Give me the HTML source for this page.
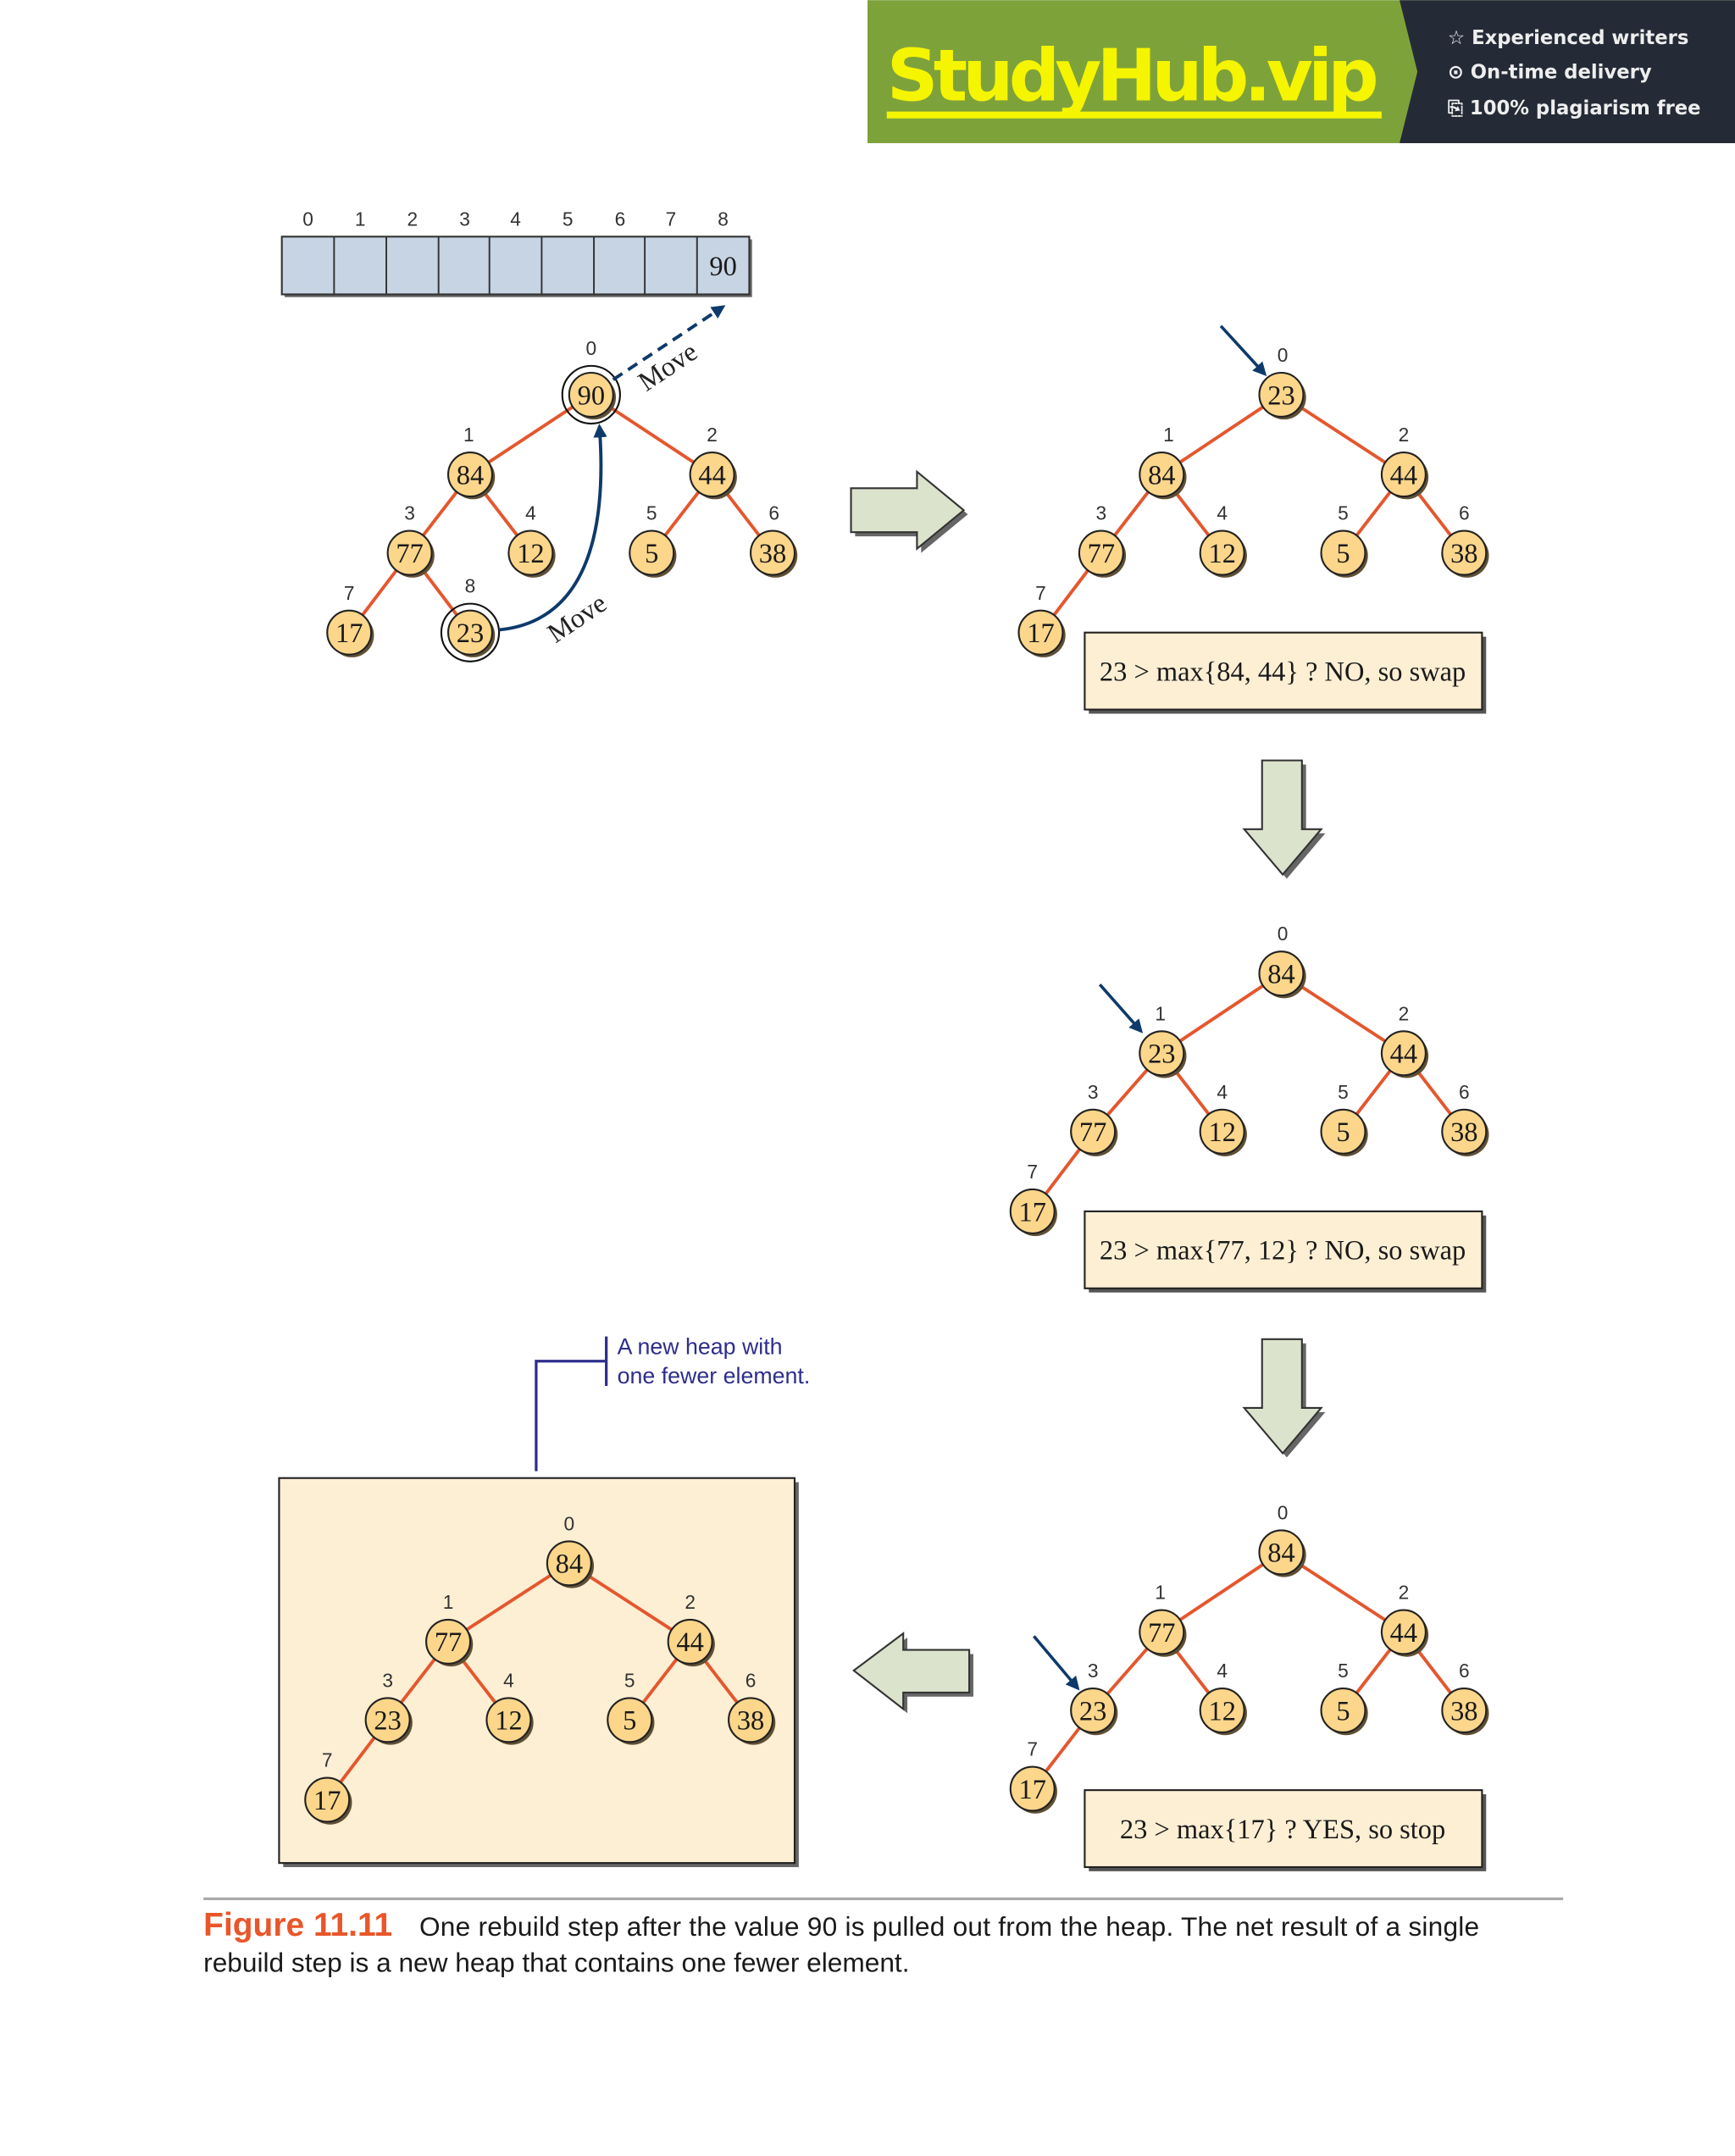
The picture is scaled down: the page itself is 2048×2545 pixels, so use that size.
<!DOCTYPE html>
<html><head><meta charset="utf-8"><style>
html,body{margin:0;padding:0;background:#fff;}
svg{display:block;}
.n{fill:#fbd68b;stroke:#222;stroke-width:1.3}
.s{fill:#5e4f35}
.v{font-family:"Liberation Serif",serif;font-size:20px;fill:#1a1a1a;text-anchor:middle}
.i{font-family:"Liberation Sans",sans-serif;font-size:14px;fill:#333;text-anchor:middle}
.e{stroke:#e4572e;stroke-width:2.4;fill:none}
.t{font-family:"Liberation Serif",serif;font-size:20px;fill:#1a1a1a;text-anchor:middle}
</style></head><body>
<svg width="2048" height="2545" viewBox="0 0 1262 1568" xmlns="http://www.w3.org/2000/svg">
<defs>
<marker id="ah" markerWidth="10" markerHeight="10" refX="8" refY="5" orient="auto" markerUnits="userSpaceOnUse"><path d="M0,0 L10,5 L0,10 z" fill="#0d3a6b"/></marker>
</defs>
<!-- Banner -->
<rect x="631" y="0" width="631" height="104" fill="#7ea23a"/>
<path d="M1018,0 L1262,0 L1262,104 L1018,104 L1031,52 z" fill="#242b37"/>
<text x="645" y="73" font-family="DejaVu Sans,sans-serif" font-weight="bold" font-size="52" fill="#f5f500" textLength="358">StudyHub.vip</text>
<rect x="645" y="81" width="360" height="5" fill="#f5f500"/>
<g font-family="DejaVu Sans,sans-serif" font-weight="bold" font-size="14" fill="#eee">
<text x="1053" y="32">☆ Experienced writers</text>
<text x="1053" y="57">⊙ On-time delivery</text>
<text x="1053" y="83">⎘ 100% plagiarism free</text>
</g>

<!-- Array -->
<rect x="207" y="174" width="340" height="42" fill="#666"/>
<rect x="205" y="172" width="340" height="42" fill="#c6d4e4" stroke="#333" stroke-width="1.3"/>
<g stroke="#333" stroke-width="1.2">
<line x1="243" y1="172" x2="243" y2="214"/><line x1="281" y1="172" x2="281" y2="214"/><line x1="319" y1="172" x2="319" y2="214"/><line x1="356" y1="172" x2="356" y2="214"/><line x1="394" y1="172" x2="394" y2="214"/><line x1="432" y1="172" x2="432" y2="214"/><line x1="469" y1="172" x2="469" y2="214"/><line x1="507" y1="172" x2="507" y2="214"/>
</g>
<text class="v" x="526" y="200">90</text>
<g class="i"><text x="224" y="164">0</text><text x="262" y="164">1</text><text x="300" y="164">2</text><text x="338" y="164">3</text><text x="375" y="164">4</text><text x="413" y="164">5</text><text x="451" y="164">6</text><text x="488" y="164">7</text><text x="526" y="164">8</text></g>

<!-- Tree 1 -->
<g class="e"><path d="M430,287 L342,345 L298,402 L254,460 M298,402 L342,460 M342,345 L386,402 M430,287 L518,345 L474,402 M518,345 L562,402"/></g>
<circle cx="430" cy="287" r="21" fill="none" stroke="#111" stroke-width="1.3"/>
<circle cx="342" cy="460" r="21" fill="none" stroke="#111" stroke-width="1.3"/>
<g>
<circle class="s" cx="432" cy="289" r="16"/><circle class="n" cx="430" cy="287" r="16"/><text class="v" x="430" y="294">90</text>
<circle class="s" cx="344" cy="347" r="16"/><circle class="n" cx="342" cy="345" r="16"/><text class="v" x="342" y="352">84</text>
<circle class="s" cx="520" cy="347" r="16"/><circle class="n" cx="518" cy="345" r="16"/><text class="v" x="518" y="352">44</text>
<circle class="s" cx="300" cy="404" r="16"/><circle class="n" cx="298" cy="402" r="16"/><text class="v" x="298" y="409">77</text>
<circle class="s" cx="388" cy="404" r="16"/><circle class="n" cx="386" cy="402" r="16"/><text class="v" x="386" y="409">12</text>
<circle class="s" cx="476" cy="404" r="16"/><circle class="n" cx="474" cy="402" r="16"/><text class="v" x="474" y="409">5</text>
<circle class="s" cx="564" cy="404" r="16"/><circle class="n" cx="562" cy="402" r="16"/><text class="v" x="562" y="409">38</text>
<circle class="s" cx="256" cy="462" r="16"/><circle class="n" cx="254" cy="460" r="16"/><text class="v" x="254" y="467">17</text>
<circle class="s" cx="344" cy="462" r="16"/><circle class="n" cx="342" cy="460" r="16"/><text class="v" x="342" y="467">23</text>
</g>
<g class="i"><text x="430" y="258">0</text><text x="341" y="321">1</text><text x="518" y="321">2</text><text x="298" y="378">3</text><text x="386" y="378">4</text><text x="474" y="378">5</text><text x="563" y="378">6</text><text x="254" y="436">7</text><text x="342" y="431">8</text></g>
<path d="M446,276 L526,223" stroke="#0d3a6b" stroke-width="2.4" stroke-dasharray="8,5" fill="none" marker-end="url(#ah)"/>
<path d="M363,458 C425,452 442,390 436,310" stroke="#0d3a6b" stroke-width="2.4" fill="none" marker-end="url(#ah)"/>
<text x="0" y="0" font-family="Liberation Serif,serif" font-size="20" fill="#222" transform="translate(470,285) rotate(-34)">Move</text>
<text x="0" y="0" font-family="Liberation Serif,serif" font-size="20" fill="#222" transform="translate(404,468) rotate(-34)">Move</text>

<!-- Right arrow -->
<path d="M622,358 L670,358 L670,346 L704,374 L670,402 L670,390 L622,390 z" fill="#666"/>
<path d="M619,355 L667,355 L667,343 L701,371 L667,399 L667,387 L619,387 z" fill="#dbe3cc" stroke="#333" stroke-width="1.3"/>

<!-- Tree 2 -->
<g class="e"><path d="M932,287 L845,345 L801,402 L757,460 M845,345 L889,402 M932,287 L1021,345 L977,402 M1021,345 L1065,402"/></g>
<g>
<circle class="s" cx="934" cy="289" r="16"/><circle class="n" cx="932" cy="287" r="16"/><text class="v" x="932" y="294">23</text>
<circle class="s" cx="847" cy="347" r="16"/><circle class="n" cx="845" cy="345" r="16"/><text class="v" x="845" y="352">84</text>
<circle class="s" cx="1023" cy="347" r="16"/><circle class="n" cx="1021" cy="345" r="16"/><text class="v" x="1021" y="352">44</text>
<circle class="s" cx="803" cy="404" r="16"/><circle class="n" cx="801" cy="402" r="16"/><text class="v" x="801" y="409">77</text>
<circle class="s" cx="891" cy="404" r="16"/><circle class="n" cx="889" cy="402" r="16"/><text class="v" x="889" y="409">12</text>
<circle class="s" cx="979" cy="404" r="16"/><circle class="n" cx="977" cy="402" r="16"/><text class="v" x="977" y="409">5</text>
<circle class="s" cx="1067" cy="404" r="16"/><circle class="n" cx="1065" cy="402" r="16"/><text class="v" x="1065" y="409">38</text>
<circle class="s" cx="759" cy="462" r="16"/><circle class="n" cx="757" cy="460" r="16"/><text class="v" x="757" y="467">17</text>
</g>
<g class="i"><text x="933" y="263">0</text><text x="850" y="321">1</text><text x="1021" y="321">2</text><text x="801" y="378">3</text><text x="889" y="378">4</text><text x="977" y="378">5</text><text x="1065" y="378">6</text><text x="757" y="436">7</text></g>
<line x1="888" y1="237" x2="920" y2="272" stroke="#0d3a6b" stroke-width="2.2" marker-end="url(#ah)"/>
<rect x="792" y="463" width="289" height="56" fill="#555"/>
<rect x="789" y="460" width="289" height="56" fill="#fdefd4" stroke="#222" stroke-width="1.3"/>
<text class="t" x="933" y="495">23 &gt; max{84, 44} ? NO, so swap</text>

<!-- Down arrow 1 -->
<path d="M921,556 L950,556 L950,606 L964,606 L936,639 L908,606 L921,606 z" fill="#666"/>
<path d="M918,553 L947,553 L947,603 L961,603 L933,636 L905,603 L918,603 z" fill="#dbe3cc" stroke="#333" stroke-width="1.3"/>

<!-- Tree 3 -->
<g class="e"><path d="M932,708 L845,766 L795,823 L751,881 M845,766 L889,823 M932,708 L1021,766 L977,823 M1021,766 L1065,823"/></g>
<g>
<circle class="s" cx="934" cy="710" r="16"/><circle class="n" cx="932" cy="708" r="16"/><text class="v" x="932" y="715">84</text>
<circle class="s" cx="847" cy="768" r="16"/><circle class="n" cx="845" cy="766" r="16"/><text class="v" x="845" y="773">23</text>
<circle class="s" cx="1023" cy="768" r="16"/><circle class="n" cx="1021" cy="766" r="16"/><text class="v" x="1021" y="773">44</text>
<circle class="s" cx="797" cy="825" r="16"/><circle class="n" cx="795" cy="823" r="16"/><text class="v" x="795" y="830">77</text>
<circle class="s" cx="891" cy="825" r="16"/><circle class="n" cx="889" cy="823" r="16"/><text class="v" x="889" y="830">12</text>
<circle class="s" cx="979" cy="825" r="16"/><circle class="n" cx="977" cy="823" r="16"/><text class="v" x="977" y="830">5</text>
<circle class="s" cx="1067" cy="825" r="16"/><circle class="n" cx="1065" cy="823" r="16"/><text class="v" x="1065" y="830">38</text>
<circle class="s" cx="753" cy="883" r="16"/><circle class="n" cx="751" cy="881" r="16"/><text class="v" x="751" y="888">17</text>
</g>
<g class="i"><text x="933" y="684">0</text><text x="844" y="742">1</text><text x="1021" y="742">2</text><text x="795" y="799">3</text><text x="889" y="799">4</text><text x="977" y="799">5</text><text x="1065" y="799">6</text><text x="751" y="857">7</text></g>
<line x1="800" y1="716" x2="830" y2="750" stroke="#0d3a6b" stroke-width="2.2" marker-end="url(#ah)"/>
<rect x="792" y="884" width="289" height="56" fill="#555"/>
<rect x="789" y="881" width="289" height="56" fill="#fdefd4" stroke="#222" stroke-width="1.3"/>
<text class="t" x="933" y="916">23 &gt; max{77, 12} ? NO, so swap</text>

<!-- Down arrow 2 -->
<path d="M921,977 L950,977 L950,1027 L964,1027 L936,1060 L908,1027 L921,1027 z" fill="#666"/>
<path d="M918,974 L947,974 L947,1024 L961,1024 L933,1057 L905,1024 L918,1024 z" fill="#dbe3cc" stroke="#333" stroke-width="1.3"/>

<!-- Tree 4 -->
<g class="e"><path d="M932,1129 L845,1187 L795,1244 L751,1301 M845,1187 L889,1244 M932,1129 L1021,1187 L977,1244 M1021,1187 L1065,1244"/></g>
<g>
<circle class="s" cx="934" cy="1131" r="16"/><circle class="n" cx="932" cy="1129" r="16"/><text class="v" x="932" y="1136">84</text>
<circle class="s" cx="847" cy="1189" r="16"/><circle class="n" cx="845" cy="1187" r="16"/><text class="v" x="845" y="1194">77</text>
<circle class="s" cx="1023" cy="1189" r="16"/><circle class="n" cx="1021" cy="1187" r="16"/><text class="v" x="1021" y="1194">44</text>
<circle class="s" cx="797" cy="1246" r="16"/><circle class="n" cx="795" cy="1244" r="16"/><text class="v" x="795" y="1251">23</text>
<circle class="s" cx="891" cy="1246" r="16"/><circle class="n" cx="889" cy="1244" r="16"/><text class="v" x="889" y="1251">12</text>
<circle class="s" cx="979" cy="1246" r="16"/><circle class="n" cx="977" cy="1244" r="16"/><text class="v" x="977" y="1251">5</text>
<circle class="s" cx="1067" cy="1246" r="16"/><circle class="n" cx="1065" cy="1244" r="16"/><text class="v" x="1065" y="1251">38</text>
<circle class="s" cx="753" cy="1303" r="16"/><circle class="n" cx="751" cy="1301" r="16"/><text class="v" x="751" y="1308">17</text>
</g>
<g class="i"><text x="933" y="1105">0</text><text x="844" y="1163">1</text><text x="1021" y="1163">2</text><text x="795" y="1220">3</text><text x="889" y="1220">4</text><text x="977" y="1220">5</text><text x="1065" y="1220">6</text><text x="751" y="1277">7</text></g>
<line x1="752" y1="1190" x2="784" y2="1228" stroke="#0d3a6b" stroke-width="2.2" marker-end="url(#ah)"/>
<rect x="792" y="1305" width="289" height="56" fill="#555"/>
<rect x="789" y="1302" width="289" height="56" fill="#fdefd4" stroke="#222" stroke-width="1.3"/>
<text class="t" x="933" y="1337">23 &gt; max{17} ? YES, so stop</text>

<!-- Left arrow -->
<path d="M708,1203 L660,1203 L660,1191 L624,1218 L660,1246 L660,1234 L708,1234 z" fill="#666"/>
<path d="M705,1200 L657,1200 L657,1188 L621,1215 L657,1243 L657,1231 L705,1231 z" fill="#dbe3cc" stroke="#333" stroke-width="1.3"/>

<!-- Result box -->
<rect x="206" y="1078" width="375" height="280" fill="#666"/>
<rect x="203" y="1075" width="375" height="280" fill="#fdefd4" stroke="#222" stroke-width="1.3"/>
<g class="e"><path d="M414,1137 L326,1194 L282,1251 L238,1309 M326,1194 L370,1251 M414,1137 L502,1194 L458,1251 M502,1194 L546,1251"/></g>
<g>
<circle class="s" cx="416" cy="1139" r="16"/><circle class="n" cx="414" cy="1137" r="16"/><text class="v" x="414" y="1144">84</text>
<circle class="s" cx="328" cy="1196" r="16"/><circle class="n" cx="326" cy="1194" r="16"/><text class="v" x="326" y="1201">77</text>
<circle class="s" cx="504" cy="1196" r="16"/><circle class="n" cx="502" cy="1194" r="16"/><text class="v" x="502" y="1201">44</text>
<circle class="s" cx="284" cy="1253" r="16"/><circle class="n" cx="282" cy="1251" r="16"/><text class="v" x="282" y="1258">23</text>
<circle class="s" cx="372" cy="1253" r="16"/><circle class="n" cx="370" cy="1251" r="16"/><text class="v" x="370" y="1258">12</text>
<circle class="s" cx="460" cy="1253" r="16"/><circle class="n" cx="458" cy="1251" r="16"/><text class="v" x="458" y="1258">5</text>
<circle class="s" cx="548" cy="1253" r="16"/><circle class="n" cx="546" cy="1251" r="16"/><text class="v" x="546" y="1258">38</text>
<circle class="s" cx="240" cy="1311" r="16"/><circle class="n" cx="238" cy="1309" r="16"/><text class="v" x="238" y="1316">17</text>
</g>
<g class="i"><text x="414" y="1113">0</text><text x="326" y="1170">1</text><text x="502" y="1170">2</text><text x="282" y="1227">3</text><text x="370" y="1227">4</text><text x="458" y="1227">5</text><text x="546" y="1227">6</text><text x="238" y="1285">7</text></g>

<!-- Callout -->
<path d="M390,1070 L390,990 L440,990" stroke="#2e2e8c" stroke-width="2" fill="none"/>
<line x1="441" y1="972" x2="441" y2="1008" stroke="#2e2e8c" stroke-width="2"/>
<g font-family="Liberation Sans,sans-serif" font-size="16.5" fill="#2e2e8c">
<text x="449" y="985">A new heap with</text><text x="449" y="1006">one fewer element.</text></g>

<!-- Caption -->
<line x1="148" y1="1381" x2="1137" y2="1381" stroke="#aaa" stroke-width="2"/>
<text x="148" y="1408" font-family="Liberation Sans,sans-serif" font-size="24" font-weight="bold" fill="#e8562a">Figure 11.11</text>
<text x="305" y="1408" font-family="Liberation Sans,sans-serif" font-size="19.5" fill="#1a1a1a" textLength="771">One rebuild step after the value 90 is pulled out from the heap. The net result of a single</text>
<text x="148" y="1434" font-family="Liberation Sans,sans-serif" font-size="19.5" fill="#1a1a1a">rebuild step is a new heap that contains one fewer element.</text>
</svg>
</body></html>
